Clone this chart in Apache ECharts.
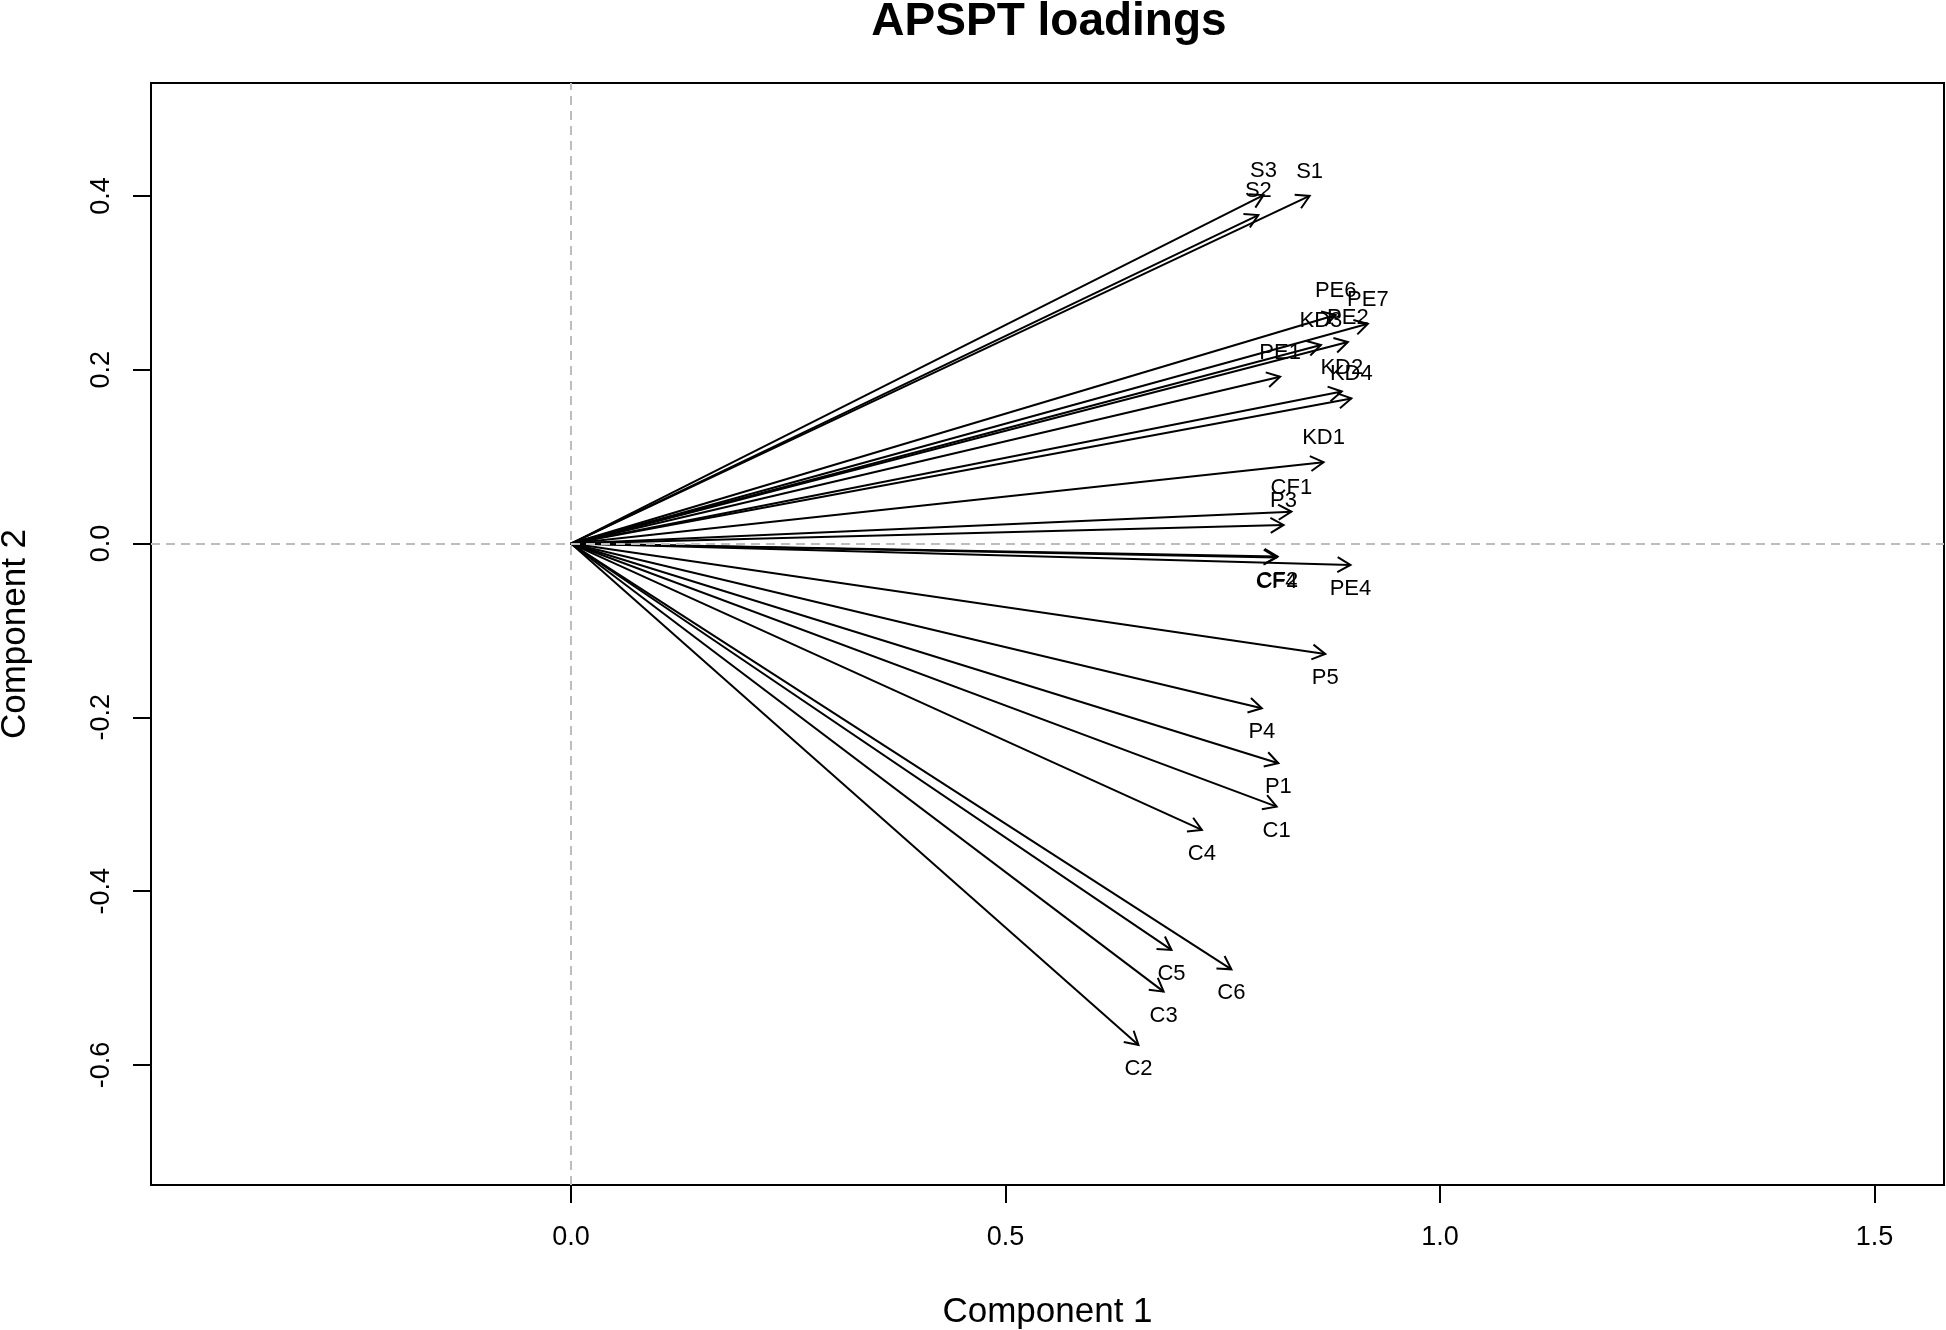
<!DOCTYPE html>
<html>
<head>
<meta charset="utf-8">
<script src="https://cdn.jsdelivr.net/npm/echarts@6/dist/echarts.min.js"></script>
<style>
html,body{margin:0;padding:0;background:#fff;}
#chart{width:1946px;height:1330px;}
</style>
</head>
<body>
<div id="chart"></div>
<script>
// Loadings (Component 1, Component 2)
const loadingNames = ['S1','S2','S3','PE6','PE7','PE2','KD3','PE1','KD2','KD4','KD1','CF1','P3','CF2','CF4','PE4','P5','P4','P1','C1','C4','C5','C6','C3','C2'];
const comp1 = [0.850,0.791,0.797,0.880,0.917,0.894,0.863,0.816,0.887,0.898,0.866,0.829,0.820,0.813,0.812,0.897,0.868,0.795,0.814,0.812,0.726,0.691,0.760,0.682,0.653];
const comp2 = [0.400,0.378,0.401,0.263,0.253,0.232,0.2285,0.192,0.175,0.167,0.0936,0.0367,0.0214,-0.0150,-0.0160,-0.0246,-0.127,-0.1895,-0.2528,-0.3028,-0.3296,-0.4677,-0.490,-0.5157,-0.577];
const xTicks = [0, 0.5, 1.0, 1.5];
const yTicks = [-0.6, -0.4, -0.2, 0, 0.2, 0.4];

const FONT = '"Liberation Sans", Arial, Helvetica, sans-serif';
const chart = echarts.init(document.getElementById('chart'), null, {renderer: 'canvas'});

const data = loadingNames.map((n, i) => [comp1[i], comp2[i], n]);

const option = {
  backgroundColor: '#ffffff',
  animation: false,
  graphic: [{
    type: 'text', x: 1049, y: 22, silent: true,
    style: {text: 'APSPT loadings', fontFamily: FONT, fontSize: 46, fontWeight: 'bold', fill: '#000', align: 'center', verticalAlign: 'middle'}
  }],
  grid: {
    left: 151, top: 83, width: 1793, height: 1102,
    outerBoundsMode: 'none', containLabel: false,
    show: true, borderColor: '#000', borderWidth: 2, backgroundColor: 'transparent'
  },
  xAxis: {
    type: 'value',
    min: -0.4833, max: 1.580,
    name: 'Component 1',
    nameLocation: 'middle',
    nameGap: 110,
    nameTextStyle: {fontFamily: FONT, fontSize: 35, color: '#000'},
    axisLine: {show: false, onZero: false},
    splitLine: {show: false},
    axisTick: {show: true, inside: false, length: 18, customValues: xTicks, lineStyle: {color: '#000', width: 2}},
    axisLabel: {
      show: true, customValues: xTicks, margin: 39,
      fontFamily: FONT, fontSize: 27, color: '#000',
      formatter: v => v.toFixed(1)
    }
  },
  yAxis: {
    type: 'value',
    min: -0.7382, max: 0.530,
    name: 'Component 2',
    nameLocation: 'middle',
    nameGap: 118,
    nameRotate: 90,
    nameTextStyle: {fontFamily: FONT, fontSize: 35, color: '#000'},
    axisLine: {show: false, onZero: false},
    splitLine: {show: false},
    axisTick: {show: true, inside: false, length: 18, customValues: yTicks, lineStyle: {color: '#000', width: 2}},
    axisLabel: {
      show: true, customValues: yTicks, margin: 36, rotate: 90,
      fontFamily: FONT, fontSize: 27, color: '#000',
      formatter: v => v.toFixed(1)
    }
  },
  series: [
    {
      type: 'scatter',
      data: [],
      z: 1,
      silent: true,
      markLine: {
        silent: true,
        symbol: ['none', 'none'],
        label: {show: false},
        lineStyle: {color: '#bdbdbd', width: 2, type: [9, 6]},
        data: [{xAxis: 0}, {yAxis: 0}]
      }
    },
    {
      type: 'custom',
      z: 2,
      silent: true,
      data: data,
      encode: {x: 0, y: 1},
      renderItem: function (params, api) {
        const vx = api.value(0), vy = api.value(1);
        const name = loadingNames[params.dataIndex];
        const p0 = api.coord([0, 0]);
        const p1 = api.coord([vx, vy]);
        const ang = Math.atan2(p1[1] - p0[1], p1[0] - p0[0]);
        const L = 15, a = Math.PI / 6;
        const b1 = [p1[0] - L * Math.cos(ang - a), p1[1] - L * Math.sin(ang - a)];
        const b2 = [p1[0] - L * Math.cos(ang + a), p1[1] - L * Math.sin(ang + a)];
        const off = vy >= 0 ? -24 : 24;
        return {
          type: 'group',
          children: [
            {type: 'line', shape: {x1: p0[0], y1: p0[1], x2: p1[0], y2: p1[1]},
             style: {stroke: '#000', lineWidth: 2}},
            {type: 'polyline', shape: {points: [b1, p1, b2]},
             style: {stroke: '#000', lineWidth: 2, fill: null}},
            {type: 'text', x: p1[0], y: p1[1] + off,
             style: {text: name, fontFamily: FONT, fontSize: 22, fill: '#000', align: 'center', verticalAlign: 'middle'}}
          ]
        };
      }
    }
  ]
};
chart.setOption(option);
</script>
</body>
</html>
